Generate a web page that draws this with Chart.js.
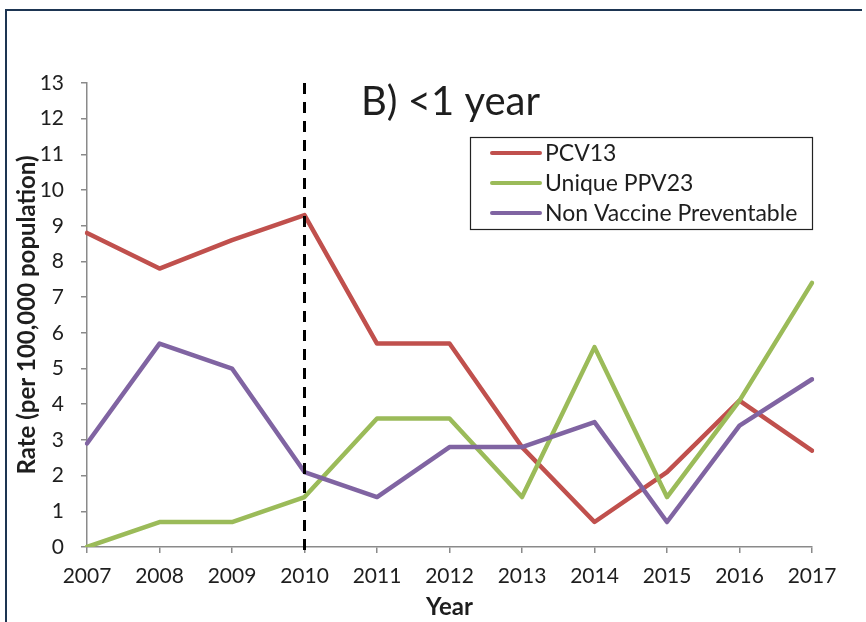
<!DOCTYPE html>
<html>
<head>
<meta charset="utf-8">
<script src="https://cdn.jsdelivr.net/npm/chart.js@4.4.1/dist/chart.umd.min.js"></script>
<style>
  html, body { margin: 0; padding: 0; background: #ffffff; }
  #wrap { position: relative; width: 866px; height: 622px; }
</style>
</head>
<body>
<div id="wrap"><canvas id="chart" width="866" height="622"></canvas></div>
<script>
// Incidence rate by year, children under 1
const years = ['2007','2008','2009','2010','2011','2012','2013','2014','2015','2016','2017'];
const pcv13 = [8.8, 7.8, 8.6, 9.3, 5.7, 5.7, 2.8, 0.7, 2.1, 4.1, 2.7];
const uniquePpv23 = [0.0, 0.7, 0.7, 1.4, 3.6, 3.6, 1.4, 5.6, 1.4, 4.1, 7.4];
const nonVaccine = [2.9, 5.7, 5.0, 2.1, 1.4, 2.8, 2.8, 3.5, 0.7, 3.4, 4.7];
const seriesNames = ['PCV13', 'Unique PPV23', 'Non Vaccine Preventable'];
const yTicks = [0,1,2,3,4,5,6,7,8,9,10,11,12,13];
const markerYear = '2010';
const panelTitle = 'B) <1 year';

const FONT = 'Lato, "Open Sans", "Liberation Sans", sans-serif';
const TEXT = '#1e1e1e';
const AXIS = '#8a8a8a';

// Outer frame (left and top edges)
const framePlugin = {
  id: 'frame',
  beforeDraw(chart) {
    const c = chart.ctx;
    c.save();
    c.fillStyle = '#ffffff';
    c.fillRect(0, 0, chart.width, chart.height);
    c.strokeStyle = '#1d3552';
    c.lineWidth = 2;
    c.beginPath();
    c.moveTo(6, chart.height);
    c.lineTo(6, 10);
    c.lineTo(862, 10);
    c.stroke();
    c.restore();
  }
};

// Dashed vertical reference line at the marker year, plus panel title
const markerPlugin = {
  id: 'marker',
  afterDatasetsDraw(chart) {
    const c = chart.ctx;
    const x = chart.scales.x.getPixelForValue(years.indexOf(markerYear));
    const yTop = chart.scales.y.getPixelForValue(13);
    const yBot = chart.scales.y.getPixelForValue(0) + 3;
    c.save();
    c.strokeStyle = '#000000';
    c.lineWidth = 3;
    c.setLineDash([11, 8]);
    c.beginPath();
    c.moveTo(x, yTop);
    c.lineTo(x, yBot);
    c.stroke();
    c.restore();

    c.save();
    c.fillStyle = TEXT;
    c.font = '40px ' + FONT;
    c.textAlign = 'left';
    c.textBaseline = 'middle';
    c.fillText(panelTitle, 361, 102);
    c.restore();
  }
};

// Boxed legend inside the plot area
const boxLegendPlugin = {
  id: 'boxLegend',
  afterDraw(chart) {
    const c = chart.ctx;
    const bx = 470, by = 137, bw = 342, bh = 92;
    c.save();
    c.fillStyle = '#ffffff';
    c.fillRect(bx, by, bw, bh);
    c.strokeStyle = '#222222';
    c.lineWidth = 1.2;
    c.strokeRect(bx + 0.5, by + 0.5, bw, bh);
    c.font = '23px ' + FONT;
    c.textBaseline = 'middle';
    c.textAlign = 'left';
    chart.data.datasets.forEach((ds, i) => {
      const y = by + 16 + i * 30;
      c.strokeStyle = ds.borderColor;
      c.lineWidth = 4;
      c.lineCap = 'round';
      c.beginPath();
      c.moveTo(492, y);
      c.lineTo(540, y);
      c.stroke();
      c.fillStyle = TEXT;
      c.fillText(ds.label, 545, y + 1);
    });
    c.restore();
  }
};

const lineStyle = (color, order) => ({
  borderColor: color,
  backgroundColor: color,
  borderWidth: 4.5,
  pointRadius: 0,
  pointHoverRadius: 0,
  tension: 0,
  fill: false,
  borderJoinStyle: 'round',
  borderCapStyle: 'round',
  order
});

new Chart(document.getElementById('chart'), {
  type: 'line',
  data: {
    labels: years,
    datasets: [
      { label: seriesNames[0], data: pcv13, ...lineStyle('#C0504D', 3) },
      { label: seriesNames[1], data: uniquePpv23, ...lineStyle('#9BBB59', 2) },
      { label: seriesNames[2], data: nonVaccine, ...lineStyle('#8064A2', 1) }
    ]
  },
  options: {
    responsive: false,
    animation: false,
    devicePixelRatio: 1,
    layout: { padding: { left: 10, top: 83, right: 54, bottom: 0 } },
    plugins: {
      legend: { display: false },
      tooltip: { enabled: false },
      title: { display: false }
    },
    scales: {
      x: {
        type: 'category',
        offset: false,
        border: { display: true, color: AXIS, width: 1.5 },
        grid: { drawOnChartArea: false, drawTicks: true, tickLength: 6, color: AXIS, lineWidth: 1.5 },
        ticks: { color: TEXT, font: { family: FONT, size: 21 }, padding: 11, maxRotation: 0, autoSkip: false },
        title: { display: true, text: 'Year', color: TEXT, font: { family: FONT, size: 24, weight: 'bold' }, padding: { top: 1, bottom: 0 } },
        afterFit(scale) { scale.height = 75; }
      },
      y: {
        min: 0,
        max: 13,
        afterBuildTicks(scale) { scale.ticks = yTicks.map(v => ({ value: v })); },
        border: { display: true, color: AXIS, width: 1.5 },
        grid: { drawOnChartArea: false, drawTicks: true, tickLength: 6, color: AXIS, lineWidth: 1.5 },
        ticks: { color: TEXT, font: { family: FONT, size: 21 }, padding: 17 },
        title: { display: true, text: 'Rate (per 100,000 population)', color: TEXT, font: { family: FONT, size: 24, weight: 'bold' }, padding: { top: 3, bottom: 0 } },
        afterFit(scale) { scale.width = 77; }
      }
    }
  },
  plugins: [framePlugin, markerPlugin, boxLegendPlugin]
});
</script>
</body>
</html>
